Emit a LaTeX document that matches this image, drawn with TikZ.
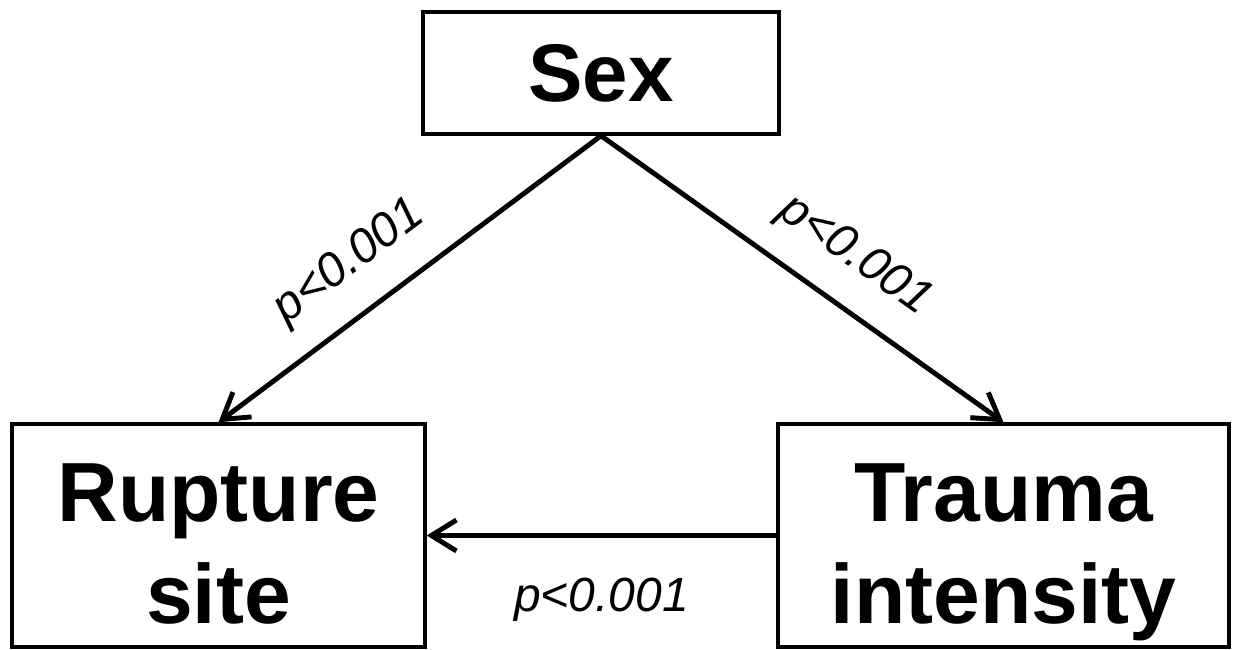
\documentclass[tikz,border=0pt]{standalone}
\usepackage{fontspec}
\setmainfont{Liberation Sans}
\usetikzlibrary{arrows.meta,positioning}

\newcommand{\capstrut}{\rule{0pt}{52pt}}

\begin{document}
\begin{tikzpicture}[
		box/.style={draw, line width=2pt, inner sep=0pt, align=center,
			font=\fontsize{47.8}{58}\selectfont\bfseries},
		pval/.style={font=\fontsize{27.3}{30}\selectfont\itshape, inner sep=0pt},
		link/.style={line width=2.8pt, -{Straight Barb[length=0.5cm, width=0.62cm, line width=2.8pt]}}
		]
		\useasboundingbox (0,0) rectangle (24.68,12.98);
		
		% Variables
		\node[box, minimum width=7.12cm, minimum height=2.44cm,
			font=\fontsize{46.5}{55}\selectfont\bfseries] (sex) at (12.02,11.52) {Sex};
		\node[box, minimum width=8.26cm, minimum height=4.46cm] (site) at (4.37,2.27) {\capstrut Rupture\\site\vphantom{y}};
		\node[box, minimum width=9.02cm, minimum height=4.46cm] (trauma) at (20.07,2.27) {\capstrut Trauma\\intensity};
		
		% Associations
		\draw[link] (sex.south) -- (site.north) node[pval, pos=0.58, sloped, above=0.5cm] {p<0.001};
		\draw[link] (sex.south) -- (trauma.north) node[pval, pos=0.56, sloped, above=0.5cm] {p<0.001};
		\draw[link] (trauma.west) -- (site.east) node[pval, midway, below=0.8cm] {p<0.001};
		
	\end{tikzpicture}
\end{document}
